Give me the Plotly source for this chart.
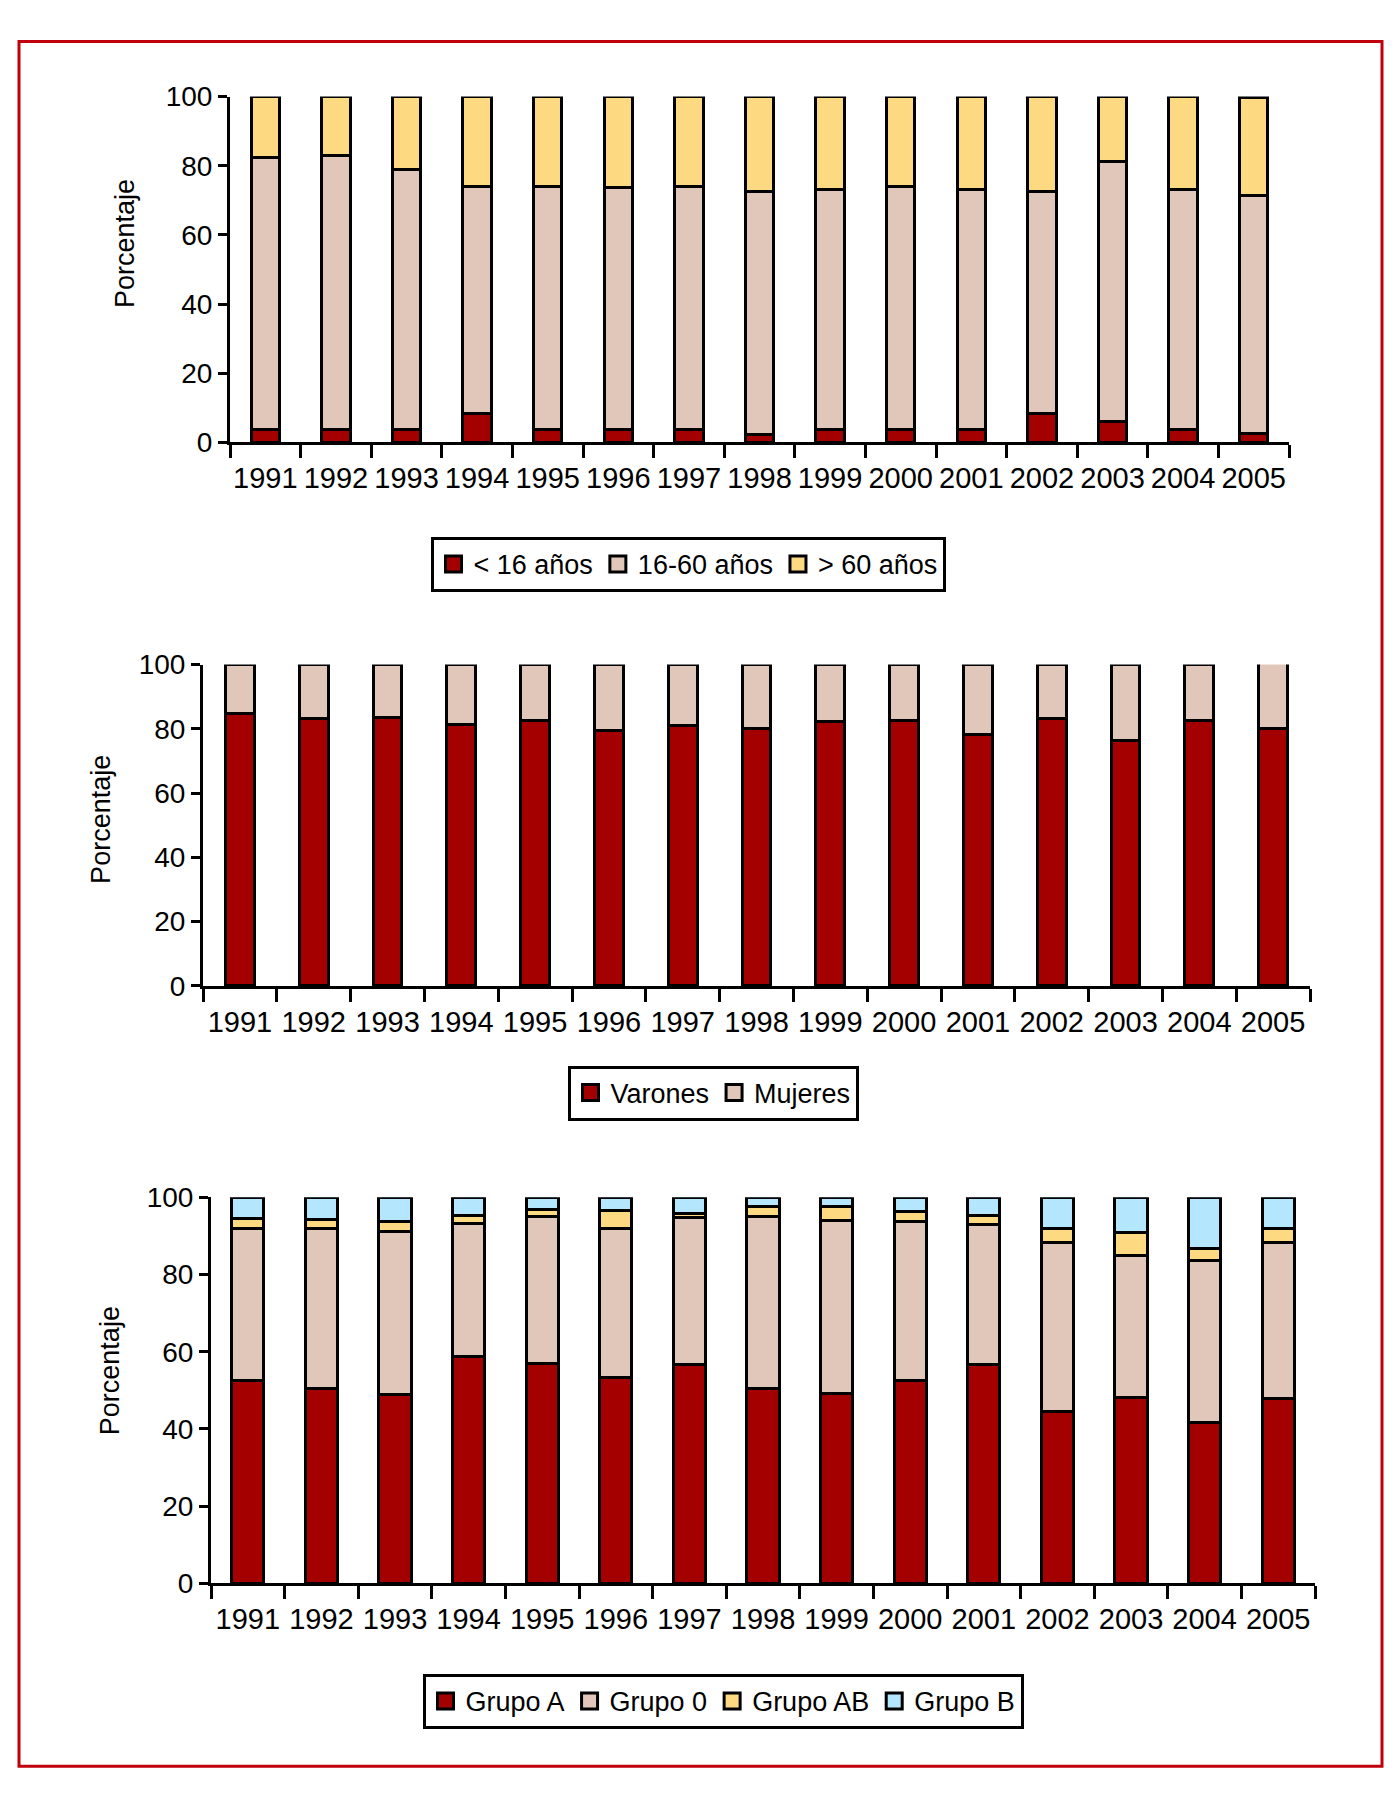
import plotly.graph_objects as go

years = [str(y) for y in range(1991, 2006)]

# Grafico 1: grupos de edad (%)
edad_menor16 = [3.8, 3.8, 3.8, 8.5, 3.8, 3.8, 3.8, 2.2, 3.8, 3.8, 3.8, 8.5, 6.2, 3.8, 2.7]
edad_16_60 = [78.5, 79.3, 75.1, 65.6, 70.3, 69.8, 70.3, 70.5, 69.2, 70.3, 69.2, 64.2, 75.0, 69.2, 68.8]
edad_mayor60 = [17.7, 16.9, 21.1, 25.9, 25.9, 26.4, 25.9, 27.3, 27.0, 25.9, 27.0, 27.3, 18.8, 27.0, 28.2]

# Grafico 2: sexo (%)
varones = [84.9, 83.1, 83.4, 81.4, 82.7, 79.6, 81.1, 80.0, 82.2, 82.7, 78.4, 83.3, 76.3, 82.7, 80.0]
mujeres = [15.1, 16.9, 16.6, 18.6, 17.3, 20.4, 18.9, 20.0, 17.8, 17.3, 21.6, 16.7, 23.7, 17.3, 20.9]

# Grafico 3: grupo sanguineo (%)
grupo_a = [52.6, 50.5, 48.9, 58.7, 57.0, 53.3, 56.6, 50.5, 49.1, 52.5, 56.7, 44.4, 48.2, 41.7, 47.8]
grupo_0 = [39.4, 41.4, 42.1, 34.5, 37.9, 38.7, 38.2, 44.4, 44.8, 41.1, 36.3, 43.9, 36.8, 42.0, 40.5]
grupo_ab = [2.6, 2.3, 2.8, 2.2, 2.0, 4.5, 1.1, 2.6, 3.6, 2.6, 2.2, 3.6, 5.9, 3.0, 3.6]
grupo_b = [5.4, 5.8, 6.2, 4.6, 3.1, 3.5, 4.1, 2.5, 2.5, 3.8, 4.8, 8.1, 9.1, 13.3, 8.1]

RED = "#a50000"
BEIGE = "#e0c7b9"
YELLOW = "#fdd982"
BLUE = "#b4e6fd"
FONT = "Liberation Sans, Arial, Helvetica, sans-serif"
W, H = 1396, 1796

charts = [
    {
        "axis": "",
        "legend": "legend",
        "width": 0.40,
        "series": [("< 16 años", edad_menor16, RED),
                   ("16-60 años", edad_16_60, BEIGE),
                   ("> 60 años", edad_mayor60, YELLOW)],
    },
    {
        "axis": "2",
        "legend": "legend2",
        "width": 0.39,
        "series": [("Varones", varones, RED),
                   ("Mujeres", mujeres, BEIGE)],
    },
    {
        "axis": "3",
        "legend": "legend3",
        "width": 0.44,
        "series": [("Grupo A", grupo_a, RED),
                   ("Grupo 0", grupo_0, BEIGE),
                   ("Grupo AB", grupo_ab, YELLOW),
                   ("Grupo B", grupo_b, BLUE)],
    },
]

fig = go.Figure()
for chart in charts:
    xa, ya = "x" + chart["axis"], "y" + chart["axis"]
    for name, values, color in chart["series"]:
        fig.add_trace(go.Bar(
            x=years, y=values, name=name, xaxis=xa, yaxis=ya,
            width=chart["width"], cliponaxis=False, showlegend=False,
            marker=dict(color=color, line=dict(color="black", width=3)),
        ))
        # legend proxy so the swatch is larger than plotly's default bar symbol
        fig.add_trace(go.Scatter(
            x=[None], y=[None], name=name, xaxis=xa, yaxis=ya,
            mode="markers", legend=chart["legend"],
            marker=dict(symbol="square", size=16, color=color,
                        line=dict(color="black", width=3)),
        ))


def px_x(v):
    return v / W


def px_y(v):
    return 1 - v / H


def x_axis(left, right, anchor):
    return dict(
        domain=[px_x(left), px_x(right)], anchor=anchor, type="category",
        range=[-0.5, 14.5], showline=True, linecolor="black", linewidth=3,
        ticks="outside", tickson="boundaries", ticklen=13, tickwidth=3,
        tickcolor="black", showgrid=False, zeroline=False, tickangle=0,
        ticklabelstandoff=8,
        tickfont=dict(family=FONT, size=29, color="black"),
    )


def y_axis(top, bottom, anchor):
    return dict(
        domain=[px_y(bottom), px_y(top)], anchor=anchor, range=[0, 100],
        tickvals=[0, 20, 40, 60, 80, 100], showline=True, linecolor="black",
        linewidth=3, ticks="outside", ticklen=9, tickwidth=3, tickcolor="black",
        showgrid=False, zeroline=False,
        tickfont=dict(family=FONT, size=28, color="black"),
    )


def legend(cx, cy):
    return dict(
        orientation="h", x=px_x(cx), y=px_y(cy), xanchor="center", yanchor="middle",
        bordercolor="black", borderwidth=3, bgcolor="white", traceorder="normal",
        font=dict(family=FONT, size=27, color="black"), itemsizing="trace",
    )


fig.update_layout(
    width=W, height=H, margin=dict(l=0, r=0, t=0, b=0),
    paper_bgcolor="white", plot_bgcolor="white", barmode="stack",
    xaxis=x_axis(230, 1289, "y"), yaxis=y_axis(83, 435, "x"),
    xaxis2=x_axis(203, 1310, "y2"), yaxis2=y_axis(661, 988, "x2"),
    xaxis3=x_axis(211, 1315, "y3"), yaxis3=y_axis(1203, 1596, "x3"),
    legend=legend(688, 559), legend2=legend(713, 1097), legend3=legend(723, 1716),
)

for cx, cy in [(125, 233), (101, 818), (110, 1380)]:
    fig.add_annotation(
        text="Porcentaje", xref="paper", yref="paper", x=px_x(cx), y=px_y(cy),
        xanchor="center", yanchor="middle", textangle=-90, showarrow=False,
        font=dict(family=FONT, size=27, color="black"),
    )

# red frame around the figure
fig.add_shape(type="rect", xref="paper", yref="paper",
              x0=px_x(19), x1=px_x(1382), y0=px_y(1782), y1=px_y(27),
              line=dict(color="#c0000c", width=3))

fig.write_html(
    "out.html",
    config={"displayModeBar": False},
    post_script="document.body.style.margin='0';document.body.style.overflow='hidden';",
)
